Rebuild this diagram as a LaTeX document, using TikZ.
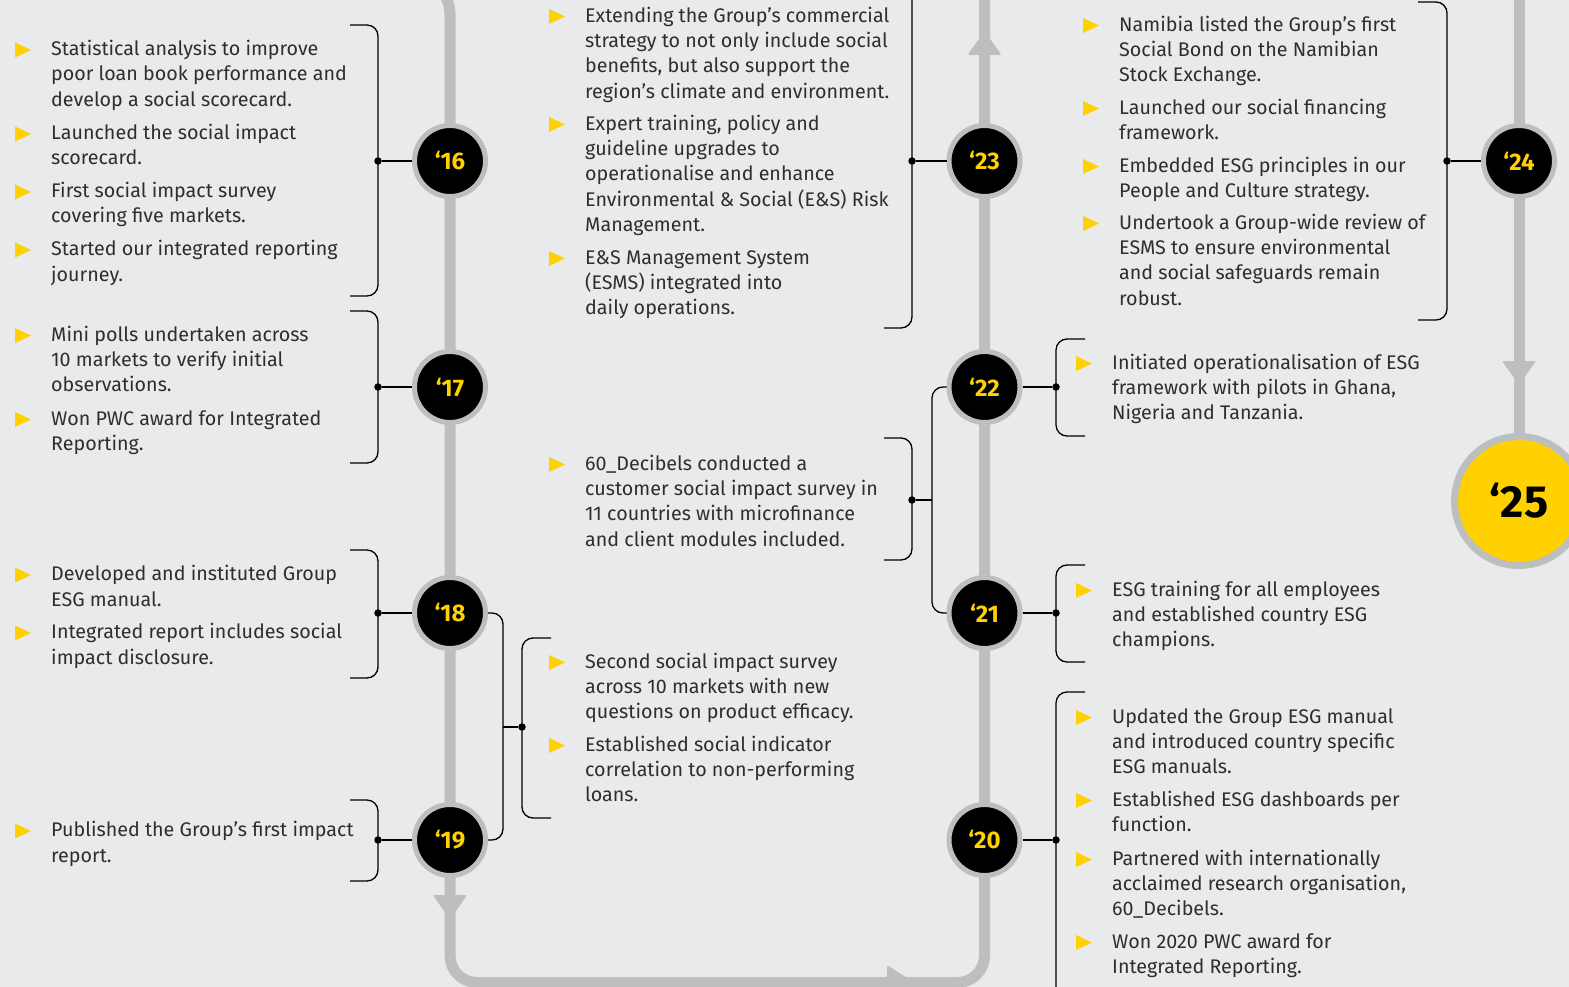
\documentclass[tikz,border=0pt]{standalone}
\usepackage{fontspec}
\setmainfont{Fira Sans}
\definecolor{bg}{HTML}{E9EAEB}
\definecolor{lgray}{HTML}{BDBEC0}
\definecolor{ylw}{HTML}{FFD100}
\definecolor{tgray}{HTML}{2E2E2E}
\tikzset{
  gline/.style={draw=lgray,line width=11pt},
  ghead/.style={fill=lgray,rounded corners=2pt},
  yr/.style={circle,fill=black,draw=lgray,line width=5pt,minimum size=71pt,inner sep=0pt,text=ylw,font=\bfseries\fontsize{24}{24}\selectfont},
  bigyr/.style={circle,fill=ylw,draw=lgray,line width=7pt,minimum size=129pt,inner sep=0pt,text=black,font=\bfseries\fontsize{45}{45}\selectfont},
  brk/.style={draw=black,line width=1.3pt,rounded corners=11pt},
  lnk/.style={draw=black,line width=1.3pt},
  dotc/.style={circle,fill=black,inner sep=0pt,minimum size=7.5pt},
  txt/.style={anchor=north west,align=left,inner sep=0pt,text=tgray,font=\fontsize{19.7}{25.3}\selectfont},
}
\newcommand\bl[4]{%
  \fill[ylw] ({#2-36},{#3-13}) -- ({#2-20},{#3-5.5}) -- ({#2-36},{#3+2}) -- cycle;
  \node[txt] (#1) at (#2,{#3-17.71}) {\strut#4};}
\begin{document}
\begin{tikzpicture}[x=1pt,y=-1pt]
\fill[bg] (0,0) rectangle (1569,987);
\useasboundingbox (0,0) rectangle (1569,987);
\clip (0,0) rectangle (1569,987);
% main grey path
\draw[gline] (438,-12) .. controls (447,-4) and (450,4) .. (450,15);
\draw[gline,rounded corners=27pt] (450,14) -- (450,982.5) -- (984.5,982.5) -- (984.5,-12);
\draw[gline] (1519,-12) -- (1519,440);
% arrow heads
\fill[ghead] (433,895) -- (467,895) -- (450,920) -- cycle;
\fill[ghead] (967.5,55) -- (1001.5,55) -- (984.5,31) -- cycle;
\fill[ghead] (1502,361) -- (1536,361) -- (1519,385) -- cycle;
\fill[ghead] (887,965) -- (887,1000) -- (914,982.5) -- cycle;
% year circles
\node[yr] (y16) at (450,161) {‘16};
\node[yr] (y17) at (450,387) {‘17};
\node[yr] (y18) at (450,613) {‘18};
\node[yr] (y19) at (450,840) {‘19};
\node[yr] (y23) at (984.5,161) {‘23};
\node[yr] (y22) at (984.5,387) {‘22};
\node[yr] (y21) at (984.5,613) {‘21};
\node[yr] (y20) at (984.5,840) {‘20};
\node[yr] (y24) at (1519,161) {‘24};
\node[bigyr] (y25) at (1519,501) {‘25};
% dots
\node[dotc] (d16) at (378,161) {};
\node[dotc] (d17) at (378,387) {};
\node[dotc] (d18) at (378,613) {};
\node[dotc] (d19) at (378,840) {};
\node[dotc] (d1819) at (522,727) {};
\node[dotc] (d23) at (912,161) {};
\node[dotc] (d2221) at (912,500) {};
\node[dotc] (d22) at (1056,387) {};
\node[dotc] (d21) at (1056,613) {};
\node[dotc] (d20) at (1056,840) {};
\node[dotc] (d24) at (1447,161) {};
% brackets
\draw[brk] (350,25) -- (378,25) -- (378,296) -- (350,296);
\draw[brk] (350,311) -- (378,311) -- (378,463) -- (350,463);
\draw[brk] (350,550) -- (378,550) -- (378,678) -- (350,678);
\draw[brk] (350,800) -- (378,800) -- (378,881) -- (350,881);
\draw[brk] (y18.east) -- (503,613) -- (503,840) -- (y19.east);
\draw[brk] (551,638) -- (522,638) -- (522,818) -- (551,818);
\draw[brk] (912,-12) -- (912,328) -- (884,328);
\draw[brk] (y22.west) -- (932,387) -- (932,613) -- (y21.west);
\draw[brk] (884,438) -- (912,438) -- (912,560) -- (884,560);
\draw[brk] (1085,339) -- (1056,339) -- (1056,436) -- (1085,436);
\draw[brk] (1085,565) -- (1056,565) -- (1056,662) -- (1085,662);
\draw[brk] (1085,692) -- (1056,692) -- (1056,1000);
\draw[brk] (1418,2) -- (1447,2) -- (1447,320) -- (1418,320);
% links
\draw[lnk] (d16) -- (y16.west);
\draw[lnk] (d17) -- (y17.west);
\draw[lnk] (d18) -- (y18.west);
\draw[lnk] (d19) -- (y19.west);
\draw[lnk] (503,727) -- (d1819);
\draw[lnk] (d23) -- (y23.west);
\draw[lnk] (932,500) -- (d2221);
\draw[lnk] (y22.east) -- (d22);
\draw[lnk] (y21.east) -- (d21);
\draw[lnk] (y20.east) -- (d20);
\draw[lnk] (d24) -- (y24.west);
% left column texts
\bl{t1}{51}{55.5}{Statistical analysis to improve\\poor loan book performance and\\develop a social scorecard.}
\bl{t2}{51}{139.5}{Launched the social impact\\scorecard.}
\bl{t3}{51}{197.5}{First social impact survey\\covering five markets.}
\bl{t4}{51}{255.5}{Started our integrated reporting\\journey.}
\bl{t5}{51}{341}{Mini polls undertaken across\\10 markets to verify initial\\observations.}
\bl{t6}{51}{425}{Won PWC award for Integrated\\Reporting.}
\bl{t7}{51}{580.5}{Developed and instituted Group\\ESG manual.}
\bl{t8}{51}{638.5}{Integrated report includes social\\impact disclosure.}
\bl{t9}{51}{836.5}{Published the Group’s first impact\\report.}
% middle column texts
\bl{t10}{585}{22}{Extending the Group’s commercial\\strategy to not only include social\\benefits, but also support the\\region’s climate and environment.}
\bl{t11}{585}{130}{Expert training, policy and\\guideline upgrades to\\operationalise and enhance\\Environmental \& Social (E\&S) Risk\\Management.}
\bl{t12}{585}{264}{E\&S Management System\\(ESMS) integrated into\\daily operations.}
\bl{t13}{585}{470}{60\_Decibels conducted a\\customer social impact survey in\\11 countries with microfinance\\and client modules included.}
\bl{t14}{585}{668}{Second social impact survey\\across 10 markets with new\\questions on product efficacy.}
\bl{t15}{585}{751}{Established social indicator\\correlation to non-performing\\loans.}
% right column texts
\bl{t16}{1119}{31}{Namibia listed the Group’s first\\Social Bond on the Namibian\\Stock Exchange.}
\bl{t17}{1119}{114}{Launched our social financing\\framework.}
\bl{t18}{1119}{172}{Embedded ESG principles in our\\People and Culture strategy.}
\bl{t19}{1119}{229}{Undertook a Group-wide review of\\ESMS to ensure environmental\\and social safeguards remain\\robust.}
\bl{t20}{1112}{369}{Initiated operationalisation of ESG\\framework with pilots in Ghana,\\Nigeria and Tanzania.}
\bl{t21}{1112}{596}{ESG training for all employees\\and established country ESG\\champions.}
\bl{t22}{1112}{723}{Updated the Group ESG manual\\and introduced country specific\\ESG manuals.}
\bl{t23}{1112}{806}{Established ESG dashboards per\\function.}
\bl{t24}{1112}{865}{Partnered with internationally\\acclaimed research organisation,\\60\_Decibels.}
\bl{t25}{1112}{948}{Won 2020 PWC award for\\Integrated Reporting.}
\end{tikzpicture}
\end{document}
